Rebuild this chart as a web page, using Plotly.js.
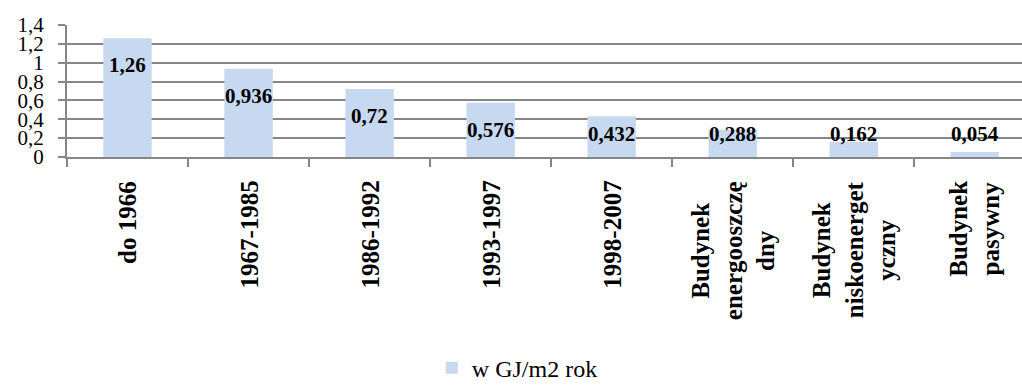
<!DOCTYPE html>
<html>
<head>
<meta charset="utf-8">
<script src="https://cdn.plot.ly/plotly-3.0.1.min.js"></script>
<style>html,body{margin:0;padding:0;background:#fff;}#chart{width:1022px;height:385px;}</style>
</head>
<body>
<div id="chart"></div>
<script>
const categories = ["do 1966", "1967-1985", "1986-1992", "1993-1997", "1998-2007",
  "Budynek energooszczędny", "Budynek niskoenergetyczny", "Budynek pasywny"];
const tickLabels = ["do 1966", "1967-1985", "1986-1992", "1993-1997", "1998-2007",
  "Budynek<br>energooszczę<br>dny", "Budynek<br>niskoenerget<br>yczny", "Budynek<br>pasywny"];
const values = [1.26, 0.936, 0.72, 0.576, 0.432, 0.288, 0.162, 0.054];
const seriesName = "w GJ/m2 rok";

const FONT = "Liberation Serif";
const GRID = "#868686";

const trace = {
  type: "bar",
  x: categories,
  y: values,
  name: seriesName,
  marker: {color: "#c6d9f1"},
  width: 0.4,
  showlegend: true,
  hoverinfo: "skip"
};

const annotations = [];
values.forEach((v, i) => {
  annotations.push({
    xref: "x", yref: "y",
    x: categories[i],
    y: Math.max(v - 0.286, 0.244),
    yanchor: "middle", xanchor: "center",
    text: "<b>" + String(v).replace(".", ",") + "</b>",
    showarrow: false,
    font: {family: FONT, size: 21, color: "#000"}
  });
  annotations.push({
    xref: "x", yref: "paper",
    x: categories[i],
    y: 0,
    yanchor: "top", xanchor: "center",
    yshift: -22,
    textangle: -90,
    align: "center",
    text: "<b>" + tickLabels[i] + "</b>",
    showarrow: false,
    font: {family: FONT, size: 25, color: "#000"}
  });
});

const layout = {
  width: 1022, height: 385,
  margin: {l: 67, r: 0, t: 25, b: 228, pad: 0, autoexpand: false},
  paper_bgcolor: "#fff", plot_bgcolor: "#fff",
  separators: ",.",
  font: {family: FONT, color: "#000"},
  xaxis: {
    type: "category",
    range: [-0.5, 7.39],
    showticklabels: false,
    ticks: "outside", tickson: "boundaries", ticklen: 8, tickwidth: 2, tickcolor: GRID,
    showline: true, linecolor: GRID, linewidth: 2,
    showgrid: false, zeroline: false, fixedrange: true, automargin: false
  },
  yaxis: {
    range: [0, 1.4], dtick: 0.2, tick0: 0,
    ticks: "outside", ticklen: 7, tickwidth: 2, tickcolor: GRID,
    ticklabelstandoff: 10,
    tickfont: {family: FONT, size: 21, color: "#000"},
    showline: true, linecolor: GRID, linewidth: 2,
    showgrid: true, gridcolor: GRID, gridwidth: 2,
    zeroline: false, fixedrange: true, automargin: false
  },
  showlegend: true,
  legend: {
    orientation: "h",
    x: 0.382, xanchor: "left",
    y: -1.6, yanchor: "middle",
    font: {family: FONT, size: 24, color: "#000"},
    bgcolor: "rgba(0,0,0,0)"
  },
  annotations: annotations
};

Plotly.newPlot("chart", [trace], layout, {staticPlot: true, displayModeBar: false});
</script>
</body>
</html>
